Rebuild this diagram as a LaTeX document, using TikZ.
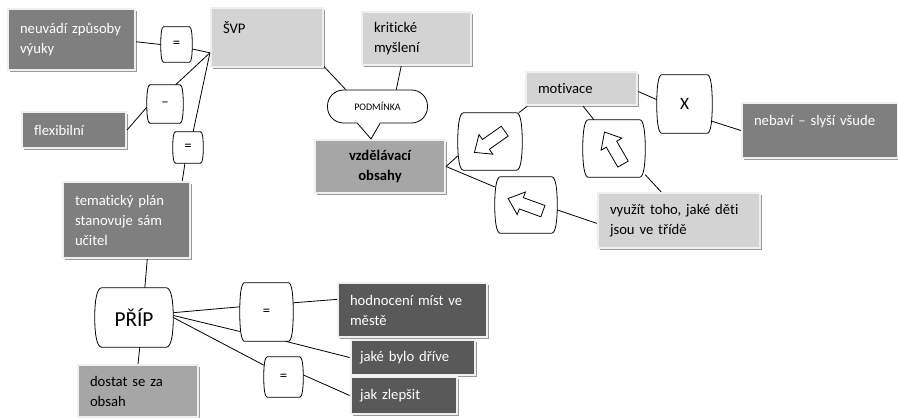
\documentclass[tikz,border=0pt]{standalone}
\usepackage{fontspec}
\setmainfont{Carlito}[Ligatures=NoCommon]
\usetikzlibrary{calc,shadows}
\definecolor{darkfill}{HTML}{7F7F7F}
\definecolor{deepfill}{HTML}{595959}
\definecolor{midfill}{HTML}{A6A6A6}
\definecolor{lightfill}{HTML}{D3D3D3}
\definecolor{framecol}{HTML}{EFEFEF}
\definecolor{shadowcol}{HTML}{9A9A9A}
\newcommand{\boxfont}{\fontsize{11}{15}\selectfont}
% barrel outline round a named node
\newcommand{\barrel}[1]{%
  \draw[conn] ($(#1.north west)!0.09!(#1.north east)$) -- ($(#1.north west)!0.91!(#1.north east)$)
    .. controls ($(#1.north west)!0.975!(#1.north east)$) and ($(#1.east)!0.55!(#1.north east)$) .. (#1.east)
    .. controls ($(#1.east)!0.55!(#1.south east)$) and ($(#1.south west)!0.975!(#1.south east)$) .. ($(#1.south west)!0.91!(#1.south east)$)
    -- ($(#1.south west)!0.09!(#1.south east)$)
    .. controls ($(#1.south west)!0.025!(#1.south east)$) and ($(#1.west)!0.55!(#1.south west)$) .. (#1.west)
    .. controls ($(#1.west)!0.55!(#1.north west)$) and ($(#1.north west)!0.025!(#1.north east)$) .. ($(#1.north west)!0.09!(#1.north east)$);
}
% block arrow inside a barrel
\newcommand{\blockarrow}[2]{%
  \draw[conn, fill=white, shift={(#1.center)}, rotate=#2]
    (-19,0) -- (-5,-12) -- (-5,-6) -- (18,-6) -- (18,6) -- (-5,6) -- (-5,12) -- cycle;
}
\tikzset{
  conn/.style={draw=black, line width=0.6pt},
  box/.style 2 args={rectangle, draw=framecol, line width=1.6pt, inner xsep=9pt, inner ysep=2pt,
    align=left, text width=#1*0.75pt-18pt, minimum height=#2*0.75pt, font=\boxfont,
    drop shadow={shadow xshift=1.6pt, shadow yshift=-1.6pt, fill=shadowcol, opacity=1}},
  darkbox/.style 2 args={box={#1}{#2}, fill=darkfill, text=white},
  deepbox/.style 2 args={box={#1}{#2}, fill=deepfill, text=white},
  midbox/.style 2 args={box={#1}{#2}, fill=midfill, text=black},
  lightbox/.style 2 args={box={#1}{#2}, fill=lightfill, text=black},
  link/.style 2 args={minimum width=#1*0.75pt, minimum height=#2*0.75pt, inner sep=0pt, font=\boxfont},
  podm/.style={rectangle, rounded corners=12pt, draw, line width=0.6pt, fill=white,
    minimum width=75pt, minimum height=24.75pt, font=\fontsize{7.5}{9}\selectfont}
}
\begin{document}
\begin{tikzpicture}[x=0.75pt,y=-0.75pt]
\path[fill=white] (0,0) rectangle (898,417);
\useasboundingbox (0,0) rectangle (898,417);

\node[darkbox={127}{61}] (neu) at (71.5,39.5) {neuvádí způsoby\\výuky};
\node[lightbox={112}{59}] (svp) at (267,37.5) {ŠVP\\\mbox{}};
\node[darkbox={104}{36}] (flex) at (74,130) {flexibilní};
\node[lightbox={109}{53}] (krit) at (416.5,38.5) {kritické\\myšlení};
\node[darkbox={127}{76}] (tem) at (126.5,220) {tematický plán\\stanovuje sám\\učitel};
\node[midbox={120}{52}] (dostat) at (138,391) {dostat se za\\obsah};
\node[deepbox={149}{54}] (hod) at (412.5,310) {hodnocení míst ve\\městě};
\node[deepbox={130}{35}, inner xsep=7pt] (jake) at (413,357.5) {jaké bylo dříve};
\node[deepbox={112}{37}, inner xsep=7pt] (jak) at (404,395.5) {jak zlepšit};
\node[midbox={130}{53}, align=center, font=\boxfont\bfseries] (vzd) at (380,166.5) {vzdělávací\\obsahy};
\node[lightbox={111}{33}] (mot) at (581.5,88.5) {motivace};
\node[darkbox={156}{55}] (neb) at (820,130.5) {nebaví – slyší všude\\\mbox{}};
\node[lightbox={162}{55}] (vyu) at (679,220.5) {využít toho, jaké děti\\jsou ve třídě};

\node[link={31}{35}] (e1) at (176.5,44.5) {=};
\node[link={36}{38}] (e2) at (165,104) {–};
\node[link={30}{31}] (e3) at (188,147.5) {=};
\node[link={78}{59}, font=\fontsize{16}{19}\selectfont] (prip) at (134,317.5) {PŘÍP};
\node[link={53}{58}] (e4) at (266.5,312) {=};
\node[link={39}{40}] (e5) at (283.5,377) {=};
\node[link={64}{57}] (a1) at (490,141.5) {};
\node[link={62}{56}] (a2) at (526,205) {};
\node[link={62}{57}] (a3) at (614,148.5) {};
\node[link={55}{58}, font=\fontsize{13}{16}\selectfont] (xnode) at (684.5,104) {X};
\node[podm] (pm) at (377.5,106.5) {PODMÍNKA};

\foreach \n in {e1,e2,e3,prip,e4,e5,a1,a2,a3,xnode} {
  \barrel{\n}
}
\blockarrow{a1}{35}
\blockarrow{a2}{-20}
\blockarrow{a3}{-60}

\fill[white] ([xshift=-15pt,yshift=1pt]pm.south) -- ([xshift=-6.75pt]vzd.north) -- ([xshift=1.9pt,yshift=1pt]pm.south) -- cycle;
\draw[conn] ([xshift=-15pt]pm.south) -- ([xshift=-6.75pt]vzd.north) -- ([xshift=1.9pt]pm.south);

\draw[conn] (neu.-2) -- (e1.west);
\draw[conn] (e1.-16) -- (svp.195);
\draw[conn] (flex.east) -- (e2.190);
\draw[conn] (e2.61) -- (svp.195);
\draw[conn] (e3.72) -- (svp.195);
\draw[conn] (e3.-101) -- (tem.35);
\draw[conn] (tem.-62) -- (prip.70);
\draw[conn] (prip.-79) -- (dostat.north);
\draw[conn] (prip.7) -- (e4.169);
\draw[conn] (prip.3) -- (e4.216);
\draw[conn] (prip.0) -- (e5.149);
\draw[conn] (e4.19) -- (hod.172);
\draw[conn] (e4.-57) -- (jake.west);
\draw[conn] (e5.6) -- (jak.west);
\draw[conn] (svp.-27) -- (pm.152);
\draw[conn] (krit.-119) -- (pm.42);
\draw[conn] (vzd.east) -- (a1.204);
\draw[conn] (a1.45) -- (mot.198);
\draw[conn] (vzd.east) -- (a2.150);
\draw[conn] (a2.-9) -- (vyu.182);
\draw[conn] (mot.-85) -- (a3.125);
\draw[conn] (a3.-40) -- (vyu.122);
\draw[conn] (mot.-3) -- (xnode.171);
\draw[conn] (xnode.-32) -- (neb.west);

\end{tikzpicture}
\end{document}
